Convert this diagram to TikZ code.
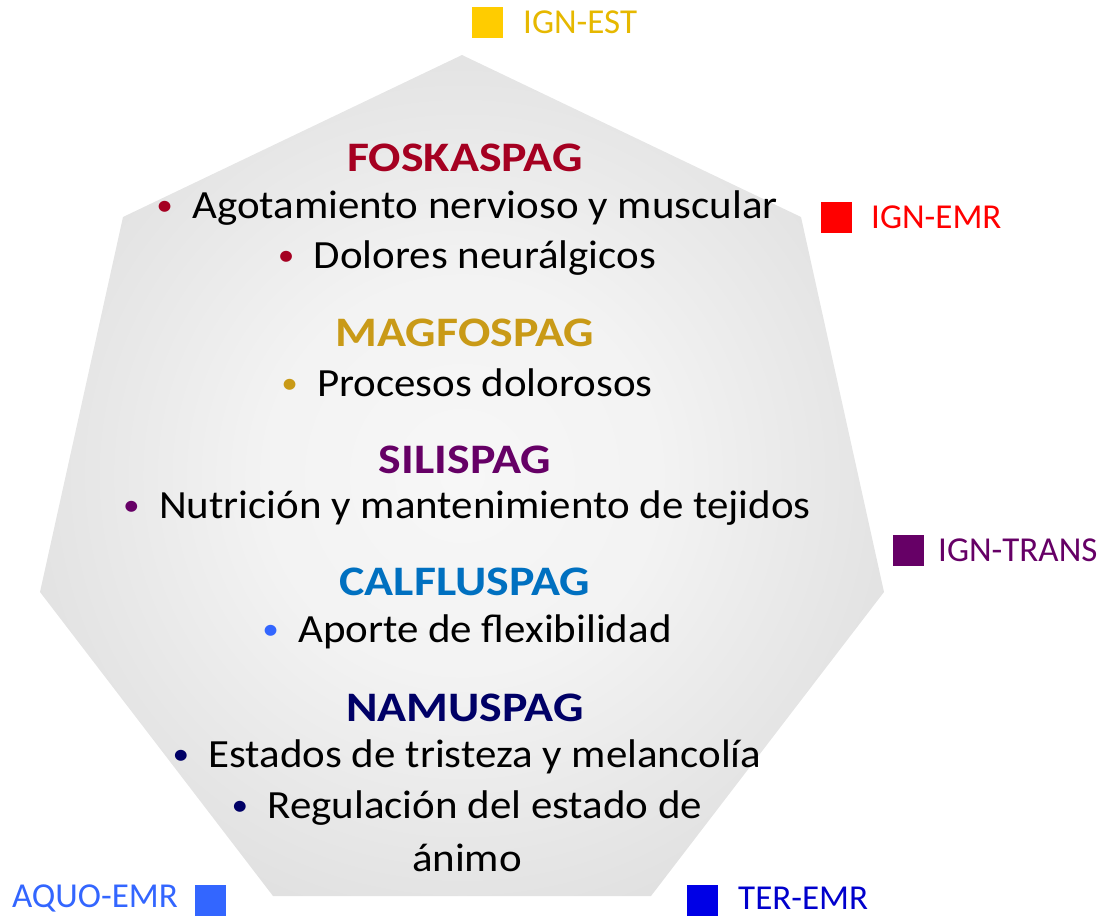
\documentclass[tikz,border=0pt]{standalone}
\usepackage{fontspec}
\usepackage{graphicx}
\setmainfont{Carlito}
\definecolor{cfos}{HTML}{A50021}
\definecolor{cmag}{HTML}{C99A17}
\definecolor{csil}{HTML}{660066}
\definecolor{ccal}{HTML}{0070C0}
\definecolor{ccalb}{HTML}{3366FF}
\definecolor{cnam}{HTML}{000066}
\definecolor{cest}{HTML}{FFCC00}
\definecolor{cestt}{HTML}{E6B800}
\definecolor{cemr}{HTML}{FF0000}
\definecolor{ctrans}{HTML}{660066}
\definecolor{caquo}{HTML}{3366FF}
\definecolor{cter}{HTML}{0000E6}
\definecolor{cterT}{HTML}{0000CC}
\definecolor{shin}{HTML}{F7F7F7}
\definecolor{shout}{HTML}{D9D9D9}
\pgfdeclareradialshading{heptshade}{\pgfpoint{0bp}{0bp}}{color(0bp)=(shin); color(12bp)=(shin!85!shout); color(34bp)=(shout); color(50bp)=(shout)}
\newcommand{\bul}[1]{{\color{#1}\fontsize{31}{34}\selectfont\raisebox{3pt}{\textbullet}}\hspace{18pt}}
\newcommand{\ttl}[1]{\scalebox{1.14}[1]{#1}}
\newcommand{\bdy}[1]{\scalebox{1.074}[1]{#1}}
\begin{document}
\begin{tikzpicture}[x=1pt,y=-1pt,
  title/.style={font=\fontsize{42}{46}\selectfont\bfseries, inner sep=0pt, anchor=center},
  item/.style={font=\fontsize{40}{46}\selectfont, inner sep=0pt, anchor=center, text=black},
  legsq/.style={minimum width=31pt, minimum height=31pt, inner sep=0pt, draw=none},
  leglab/.style={font=\fontsize{35}{40}\selectfont, inner sep=0pt}]
\useasboundingbox (0,0) rectangle (1113,916);
% heptagon
\path[shading=heptshade] (462,55) -- (801,217) -- (884,592) -- (651,896) -- (273,896) -- (40,592) -- (123,217) -- cycle;
% texts
\node[title, text=cfos] (fos) at (465,158) {\ttl{FOSKASPAG}};
\node[item] (fos1) at (467,208) {\bdy{\bul{cfos}Agotamiento nervioso y muscular}};
\node[item] (fos2) at (467,258) {\bdy{\bul{cfos}Dolores neurálgicos}};
\node[title, text=cmag] (mag) at (465,333) {\ttl{MAGFOSPAG}};
\node[item] (mag1) at (467,383) {\bdy{\bul{cmag}Procesos dolorosos}};
\node[title, text=csil] (sil) at (465,460) {\ttl{SILISPAG}};
\node[item] (sil1) at (467,508) {\bdy{\bul{csil}Nutrición y mantenimiento de tejidos}};
\node[title, text=ccal] (cal) at (465,582) {\ttl{CALFLUSPAG}};
\node[item] (cal1) at (467,632) {\bdy{\bul{ccalb}Aporte de flexibilidad}};
\node[title, text=cnam] (nam) at (465,708) {\ttl{NAMUSPAG}};
\node[item] (nam1) at (467,757) {\bdy{\bul{cnam}Estados de tristeza y melancolía}};
\node[item] (nam2) at (467,808) {\bdy{\bul{cnam}Regulación del estado de}};
\node[item] (nam3) at (467,858) {\bdy{ánimo}};
% legend
\node[legsq, fill=cest] (estsq) at (487.5,22) {};
\node[leglab, text=cestt, anchor=west] (estlab) at (523,22) {IGN-EST};
\node[legsq, fill=cemr] (emrsq) at (836.5,217.5) {};
\node[leglab, text=cemr, anchor=west] (emrlab) at (871,217.5) {IGN-EMR};
\node[legsq, fill=ctrans] (transsq) at (908.5,550.5) {};
\node[leglab, text=ctrans, anchor=west] (translab) at (938,550.5) {IGN-TRANS};
\node[legsq, fill=caquo] (aquosq) at (210.5,900.5) {};
\node[leglab, text=caquo, anchor=east] (aquolab) at (178,898) {AQUO-EMR};
\node[legsq, fill=cter] (tersq) at (702.5,900.5) {};
\node[leglab, text=cterT, anchor=west] (terlab) at (738,898) {TER-EMR};
\end{tikzpicture}
\end{document}
